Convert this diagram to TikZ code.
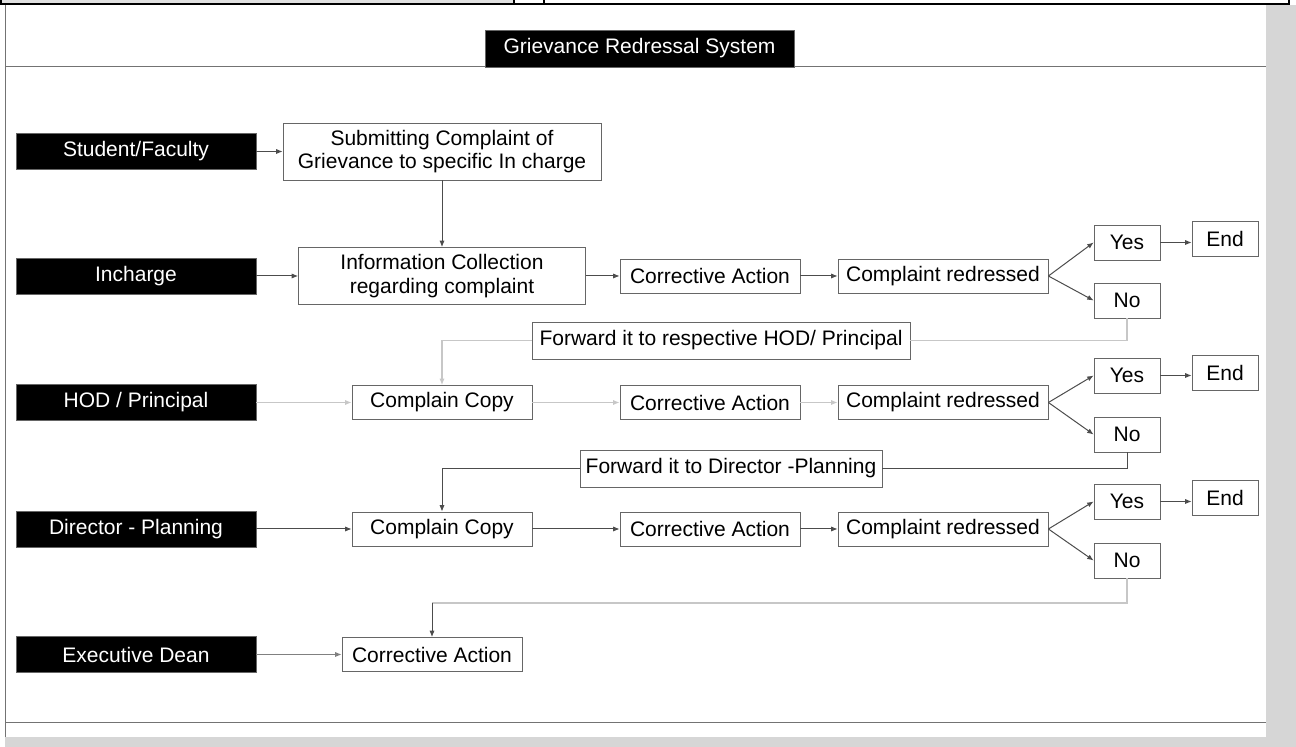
\documentclass[tikz,border=0pt]{standalone}
\usepackage{fontspec}
\setmainfont{Liberation Sans}
\usetikzlibrary{arrows.meta,positioning}
\newcommand{\pxunit}{0.5pt}
\colorlet{bandgray}{black!16}
\colorlet{framegray}{black!55}
\colorlet{lightline}{black!22}
\tikzset{
    rolesty/.style={draw=black!60,fill=black,text=white,rectangle,minimum width=240*\pxunit,minimum height=36*\pxunit,inner sep=0pt,anchor=center},
    titlesty/.style={draw=black!60,fill=black,text=white,rectangle,minimum width=309*\pxunit,minimum height=37*\pxunit,inner sep=0pt,anchor=center},
    boxsty/.style={draw=black!60,fill=white,rectangle,inner sep=0pt,align=center,anchor=center},
    actsty/.style={boxsty,minimum width=180*\pxunit,minimum height=34*\pxunit},
    redsty/.style={boxsty,minimum width=210*\pxunit,minimum height=34*\pxunit},
    ynsty/.style={boxsty,minimum width=66*\pxunit,minimum height=35*\pxunit},
    fwdsty/.style={boxsty,minimum height=37*\pxunit},
    connsty/.style={draw=black!70,line width=0.5pt},
    lconnsty/.style={draw=lightline,line width=0.6pt},
}

\begin{document}
\begin{tikzpicture}[>={Latex[length=3.2pt,width=2.6pt]}, font=\fontsize{10.5}{11.7}\selectfont]

\useasboundingbox (0, 0) rectangle (1296*\pxunit, -747*\pxunit);
% page frame
\fill [bandgray] (1266*\pxunit, -5*\pxunit) rectangle (1296*\pxunit, -747*\pxunit);
\fill [bandgray] (5*\pxunit, -737*\pxunit) rectangle (1296*\pxunit, -747*\pxunit);
\fill [black!12] (0, 0) rectangle (514*\pxunit, -4*\pxunit);
\draw [black, line width=1pt] (0, -4.5*\pxunit) -- (1290*\pxunit, -4.5*\pxunit);
\draw [black, line width=1pt] (1*\pxunit, 0) -- (1*\pxunit, -4.5*\pxunit);
\draw [black, line width=1pt] (514*\pxunit, 0) -- (514*\pxunit, -4.5*\pxunit);
\draw [black, line width=1pt] (544*\pxunit, 0) -- (544*\pxunit, -4.5*\pxunit);
\draw [black, line width=1pt] (1289*\pxunit, 0) -- (1289*\pxunit, -4.5*\pxunit);
\draw [framegray] (5*\pxunit, -5*\pxunit) -- (5*\pxunit, -737*\pxunit);
\draw [framegray] (5*\pxunit, -66*\pxunit) -- (1266*\pxunit, -66*\pxunit);
\draw [framegray] (5*\pxunit, -722*\pxunit) -- (1266*\pxunit, -722*\pxunit);

\node (titl) [titlesty] at (639.5*\pxunit, -48.5*\pxunit) {Grievance Redressal System};

% who handles it
\node (stud) [rolesty] at (136*\pxunit, -151.5*\pxunit) {Student/Faculty};
\node (inch) [rolesty] at (136*\pxunit, -276*\pxunit) {Incharge};
\node (hod) [rolesty] at (136*\pxunit, -402.5*\pxunit) {HOD / Principal};
\node (dir) [rolesty] at (136*\pxunit, -529*\pxunit) {Director - Planning};
\node (exd) [rolesty] at (136*\pxunit, -654.5*\pxunit) {Executive Dean};

% incharge level
\node (subm) [boxsty, minimum width=318*\pxunit, minimum height=57*\pxunit] at (442*\pxunit, -151.5*\pxunit) {Submitting Complaint of\\Grievance to specific In charge};
\node (info) [boxsty, minimum width=287*\pxunit, minimum height=57*\pxunit] at (442*\pxunit, -276*\pxunit) {Information Collection\\regarding complaint};
\node (ca1) [actsty] at (710*\pxunit, -276*\pxunit) {Corrective Action};
\node (cr1) [redsty] at (943*\pxunit, -276*\pxunit) {Complaint redressed};
\node (yes1) [ynsty] at (1127*\pxunit, -242.5*\pxunit) {Yes};
\node (end1) [ynsty] at (1225*\pxunit, -239*\pxunit) {End};
\node (no1) [ynsty] at (1127*\pxunit, -300.5*\pxunit) {No};
\node (fwd1) [fwdsty, minimum width=378*\pxunit] at (721*\pxunit, -340.5*\pxunit) {Forward it to respective HOD/ Principal};

% HOD level
\node (cc1) [actsty] at (442*\pxunit, -402.5*\pxunit) {Complain Copy};
\node (ca2) [actsty] at (710*\pxunit, -402.5*\pxunit) {Corrective Action};
\node (cr2) [redsty] at (943*\pxunit, -402.5*\pxunit) {Complaint redressed};
\node (yes2) [ynsty] at (1127*\pxunit, -375.5*\pxunit) {Yes};
\node (end2) [ynsty] at (1225*\pxunit, -372.5*\pxunit) {End};
\node (no2) [ynsty] at (1127*\pxunit, -434.5*\pxunit) {No};
\node (fwd2) [fwdsty, minimum width=302*\pxunit] at (731*\pxunit, -468.5*\pxunit) {Forward it to Director -Planning};

% director level
\node (cc2) [actsty] at (442*\pxunit, -529*\pxunit) {Complain Copy};
\node (ca3) [actsty] at (710*\pxunit, -529*\pxunit) {Corrective Action};
\node (cr3) [redsty] at (943*\pxunit, -529*\pxunit) {Complaint redressed};
\node (yes3) [ynsty] at (1127*\pxunit, -501.5*\pxunit) {Yes};
\node (end3) [ynsty] at (1225*\pxunit, -498*\pxunit) {End};
\node (no3) [ynsty] at (1127*\pxunit, -560.5*\pxunit) {No};

% executive dean level
\coordinate (turn3) at (432*\pxunit, -603*\pxunit);
\node (ca4) [actsty] at (432*\pxunit, -654.5*\pxunit) {Corrective Action};

\draw [connsty, ->] (stud) -- (subm);
\draw [connsty, ->] (subm) -- (info);
\draw [connsty, ->] (inch) -- (info);
\draw [connsty, ->] (info) -- (ca1);
\draw [connsty, ->] (ca1) -- (cr1);
\draw [connsty, ->] (cr1.east) -- (yes1.west);
\draw [connsty, ->] (cr1.east) -- (no1.west);
\draw [connsty, ->] (yes1) -- (end1.west |- yes1);
\draw [lconnsty] (no1.south) |- (fwd1.east);
\draw [lconnsty, ->] (fwd1.west) -| (cc1.north);

\draw [lconnsty, ->] (hod) -- (cc1);
\draw [lconnsty, ->] (cc1) -- (ca2);
\draw [lconnsty, ->] (ca2) -- (cr2);
\draw [connsty, ->] (cr2.east) -- (yes2.west);
\draw [connsty, ->] (cr2.east) -- (no2.west);
\draw [connsty, ->] (yes2) -- (end2.west |- yes2);
\draw [connsty] (no2.south) |- (fwd2.east);
\draw [connsty, ->] (fwd2.west) -| (cc2.north);

\draw [connsty, ->] (dir) -- (cc2);
\draw [connsty, ->] (cc2) -- (ca3);
\draw [connsty, ->] (ca3) -- (cr3);
\draw [connsty, ->] (cr3.east) -- (yes3.west);
\draw [connsty, ->] (cr3.east) -- (no3.west);
\draw [connsty, ->] (yes3) -- (end3.west |- yes3);
\draw [lconnsty] (no3.south) |- (turn3);
\draw [connsty, ->] (turn3) -- (ca4.north);
\draw [connsty, draw=black!50, ->] (exd) -- (ca4);

\end{tikzpicture}
\end{document}
